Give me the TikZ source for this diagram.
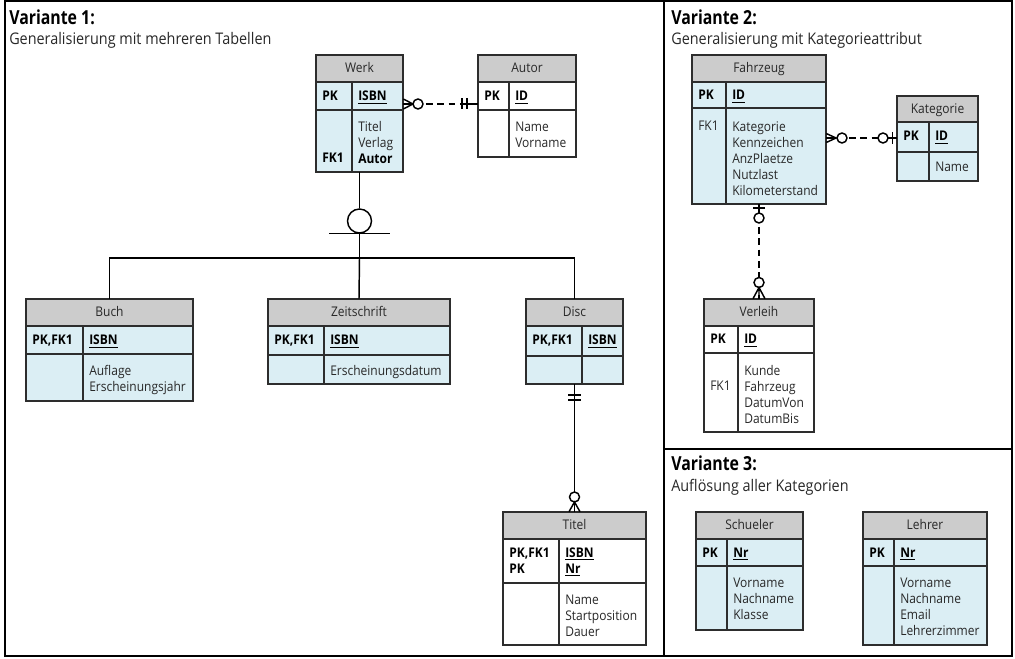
\documentclass[tikz,border=0pt]{standalone}
\usepackage{fontspec}
\setmainfont{Open Sans}[FakeStretch=0.9]
\newfontfamily\titlefont{Open Sans}[FakeStretch=0.82]
\usetikzlibrary{fit}
\definecolor{hdrgray}{RGB}{204,204,204}
\definecolor{bodyblue}{RGB}{219,238,244}
\definecolor{edgecol}{RGB}{45,45,45}
\definecolor{txtcol}{RGB}{40,40,40}
\newcommand\tabfont{\fontsize{10}{12}\selectfont}
\tikzset{
  tline/.style={draw=edgecol, line width=1.1pt},
  conn/.style={draw=black, line width=1.1pt},
  frame/.style={draw=black, line width=1.5pt},
  hdr/.style={inner sep=0pt, anchor=base, font=\tabfont, text=txtcol},
  keyt/.style={inner sep=0pt, anchor=base west, font=\tabfont\bfseries, text=black},
  keyn/.style={inner sep=0pt, anchor=base west, font=\tabfont, text=txtcol},
  attr/.style={inner sep=0pt, anchor=north west, align=left, font=\tabfont, text=txtcol},
  ttl/.style={inner sep=0pt, anchor=base west, font=\titlefont\fontsize{14.5}{16}\selectfont\bfseries},
  subttl/.style={inner sep=0pt, anchor=base west, font=\fontsize{12}{14}\selectfont, text=txtcol},
}
% name, x1, xdiv, x2, ytop, yhead, ypk, ybot, fill
\newcommand\ertab[9]{%
  \fill[#9] (#2,#5) rectangle (#4,#8);
  \fill[hdrgray] (#2,#5) rectangle (#4,#6);
  \draw[tline] (#2,#6) -- (#4,#6) (#2,#7) -- (#4,#7) (#3,#6) -- (#3,#8);
  \draw[tline] (#2,#5) rectangle (#4,#8);
  \path (#2,#5) coordinate (#1-nw) (#4,#8) coordinate (#1-se);
  \node[fit=(#1-nw)(#1-se), inner sep=0pt] (#1) {};
}
\begin{document}
\begin{tikzpicture}[x=0.75pt,y=-0.75pt]
\useasboundingbox (0,0) rectangle (1015,659);
\fill[white] (0,0) rectangle (1015,659);
% panels
\draw[frame] (5,1) rectangle (664,656);
\draw[frame] (664,1) rectangle (1012,449);
\draw[frame] (664,449) rectangle (1012,656);
\node[ttl] (v1) at (9,25) {Variante 1:};
\node[subttl] (v1s) at (9,45) {Generalisierung mit mehreren Tabellen};
\node[ttl] (v2) at (671,25) {Variante 2:};
\node[subttl] (v2s) at (671,45) {Generalisierung mit Kategorieattribut};
\node[ttl] (v3) at (671,471) {Variante 3:};
\node[subttl] (v3s) at (671,492) {Auflösung aller Kategorien};

% Werk
\ertab{werk}{316}{352}{403}{55}{82}{110}{172}{bodyblue}
\node[hdr] (werk-h) at (359.5,73) {Werk};
\node[keyt] (werk-k) at (322,101) {PK};
\node[keyt] (werk-pk) at (358,101) {\underline{ISBN}};
\node[attr] (werk-a) at (358,119.8) {\strut Titel\\Verlag\\\textbf{\color{black}Autor}};
\node[keyt] (werk-fk) at (322,163) {FK1};

% Autor
\ertab{autor}{478}{509}{576}{55}{82}{110}{157}{white}
\node[hdr] (autor-h) at (527,73) {Autor};
\node[keyt] (autor-k) at (484,101) {PK};
\node[keyt] (autor-pk) at (515,101) {\underline{ID}};
\node[attr] (autor-a) at (515,119.8) {\strut Name\\Vorname};

% Buch
\ertab{buch}{26}{83}{193}{299}{326}{354}{401}{bodyblue}
\node[hdr] (buch-h) at (109.5,317) {Buch};
\node[keyt] (buch-k) at (32,345) {PK,FK1};
\node[keyt] (buch-pk) at (89,345) {\underline{ISBN}};
\node[attr] (buch-a) at (89,363.8) {\strut Auflage\\Erscheinungsjahr};

% Zeitschrift
\ertab{zeit}{268}{324}{450}{299}{326}{355}{384}{bodyblue}
\node[hdr] (zeit-h) at (359,317) {Zeitschrift};
\node[keyt] (zeit-k) at (274,345) {PK,FK1};
\node[keyt] (zeit-pk) at (330,345) {\underline{ISBN}};
\node[attr] (zeit-a) at (330,363.8) {\strut Erscheinungsdatum};

% Disc
\ertab{disc}{526}{582}{623}{299}{326}{356}{384}{bodyblue}
\node[hdr] (disc-h) at (574.5,317) {Disc};
\node[keyt] (disc-k) at (532,345) {PK,FK1};
\node[keyt] (disc-pk) at (588,345) {\underline{ISBN}};

% Titel
\ertab{titel}{503}{559}{646}{512}{539}{583}{645}{white}
\node[hdr] (titel-h) at (574.5,530) {Titel};
\node[keyt] (titel-k1) at (509,557) {PK,FK1};
\node[keyt] (titel-k2) at (509,573) {PK};
\node[keyt] (titel-pk1) at (565,557) {\underline{ISBN}};
\node[keyt] (titel-pk2) at (565,573) {\underline{Nr}};
\node[attr] (titel-a) at (565,592.8) {\strut Name\\Startposition\\Dauer};

% Fahrzeug
\ertab{fahr}{692}{726}{826}{55}{82}{108}{204}{bodyblue}
\node[hdr] (fahr-h) at (759,73) {Fahrzeug};
\node[keyt] (fahr-k) at (698,100) {PK};
\node[keyt] (fahr-pk) at (732,100) {\underline{ID}};
\node[attr] (fahr-a) at (732,119.8) {\strut Kategorie\\Kennzeichen\\AnzPlaetze\\Nutzlast\\Kilometerstand};
\node[keyn] (fahr-fk) at (698,131) {FK1};

% Kategorie
\ertab{kat}{897}{929}{978}{96}{122}{152}{181}{bodyblue}
\node[hdr] (kat-h) at (937.5,113.5) {Kategorie};
\node[keyt] (kat-k) at (903,141) {PK};
\node[keyt] (kat-pk) at (935,141) {\underline{ID}};
\node[attr] (kat-a) at (935,159.8) {\strut Name};

% Verleih
\ertab{verl}{704}{738}{814}{299}{326}{353}{432}{white}
\node[hdr] (verl-h) at (759,317) {Verleih};
\node[keyt] (verl-k) at (710,344) {PK};
\node[keyt] (verl-pk) at (744,344) {\underline{ID}};
\node[attr] (verl-a) at (744,363.8) {\strut Kunde\\Fahrzeug\\DatumVon\\DatumBis};
\node[keyn] (verl-fk) at (710,391) {FK1};

% Schueler
\ertab{schue}{696}{727}{803}{512}{539}{566}{630}{bodyblue}
\node[hdr] (schue-h) at (749.5,530) {Schueler};
\node[keyt] (schue-k) at (702,557) {PK};
\node[keyt] (schue-pk) at (733,557) {\underline{Nr}};
\node[attr] (schue-a) at (733,575.8) {\strut Vorname\\Nachname\\Klasse};

% Lehrer
\ertab{lehr}{863}{894}{987}{512}{539}{566}{645}{bodyblue}
\node[hdr] (lehr-h) at (925,530) {Lehrer};
\node[keyt] (lehr-k) at (869,557) {PK};
\node[keyt] (lehr-pk) at (900,557) {\underline{Nr}};
\node[attr] (lehr-a) at (900,575.8) {\strut Vorname\\Nachname\\Email\\Lehrerzimmer};

% Werk -- Autor
\draw[conn,dash pattern=on 5pt off 3.5pt] (werk.east |- 0,104) -- (autor.west |- 0,104);
\draw[conn] (werk.east |- 0,99) -- (413,104) -- (werk.east |- 0,109) (werk.east |- 0,104) -- (413,104);
\draw[conn,fill=white] (418,104) circle[radius=5];
\draw[conn] (461,104) -- (autor.west |- 0,104) (462,98.5) -- (462,109.5) (467,98.5) -- (467,109.5);

% Fahrzeug -- Kategorie
\draw[conn,dash pattern=on 5pt off 3.5pt] (fahr.east |- 0,138) -- (kat.west |- 0,138);
\draw[conn] (fahr.east |- 0,133.5) -- (836,138) -- (fahr.east |- 0,142.5) (fahr.east |- 0,138) -- (837,138);
\draw[conn,fill=white] (842,138) circle[radius=5];
\draw[conn,fill=white] (883,138) circle[radius=5];
\draw[conn] (888,138) -- (kat.west |- 0,138) (892.5,132) -- (892.5,144);

% Fahrzeug -- Verleih
\draw[conn,dash pattern=on 5pt off 3.5pt] (fahr.south) -- (verl.north);
\draw[conn] (fahr.south) -- (759,213) (753,208) -- (765,208);
\draw[conn,fill=white] (759,218) circle[radius=5];
\draw[conn,fill=white] (759,282.5) circle[radius=5];
\draw[conn] (753,0 |- verl.north) -- (759,287.5) -- (765,0 |- verl.north) (759,287.5) -- (verl.north);

% Disc -- Titel
\draw[conn] (disc.south) -- (titel.north);
\draw[conn] (568,395) -- (581,395) (568,400) -- (581,400);
\draw[conn,fill=white] (574.5,497) circle[radius=5];
\draw[conn] (569,0 |- titel.north) -- (574.5,502) -- (580,0 |- titel.north);

% Generalisierung
\node[draw, circle, line width=1.1pt, minimum size=18pt, inner sep=0pt] (subc) at (359.5,221) {};
\coordinate (split) at (359.5,258);
\draw[conn] (werk.south) -- (subc.north);
\draw[conn] (329,0 |- subc.south) -- (390,0 |- subc.south);
\draw[conn] (subc.south) -- (split);
\draw[conn] (buch.north) |- (split) -| (disc.north);
\draw[conn] (split) -- (zeit.north);
\end{tikzpicture}
\end{document}
